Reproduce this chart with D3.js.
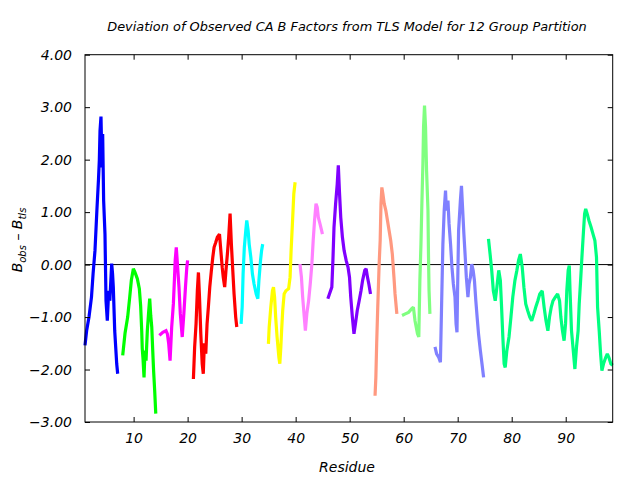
<!DOCTYPE html>
<html>
<head>
<meta charset="utf-8">
<script src="https://cdn.jsdelivr.net/npm/d3@7/dist/d3.min.js"></script>
<style>
  html, body { margin: 0; padding: 0; background: #fff; }
  text { font-family: "DejaVu Sans", sans-serif; font-style: italic; fill: #000; }
</style>
</head>
<body>
<svg id="chart" width="640" height="480"></svg>
<script>
// ---- data (residue, B_obs - B_tls) per TLS group ----
const groupColors = ["#0000ff","#00ff00","#ff00ff","#ff0000","#00ffff","#ffff00",
                     "#ff80ff","#8000ff","#ff9980","#80ff80","#8080ff","#00ff80"];

const group1 = [[1.0,-1.54],[1.3,-1.26],[1.74,-1.0],[2.2,-0.62],[2.5,-0.17],[2.85,0.27],[3.2,1.03],
  [3.5,1.63],[3.65,1.98],[3.78,2.55],[3.96,2.82],[4.15,1.85],[4.27,2.49],[4.45,1.22],[4.7,0.58],
  [4.89,-0.69],[5.13,-1.07],[5.38,-0.5],[5.6,-0.69],[5.94,0.02],[6.1,-0.17],[6.24,-0.43],
  [6.5,-1.26],[6.87,-1.89],[7.05,-2.08]];
const group2 = [[7.98,-1.73],[8.41,-1.31],[8.9,-1.0],[9.28,-0.62],[9.58,-0.30],[9.95,-0.08],
  [10.26,-0.15],[10.69,-0.27],[11.06,-0.46],[11.3,-0.78],[11.5,-1.26],[11.6,-1.6],[11.74,-1.79],
  [11.93,-2.15],[12.1,-1.64],[12.3,-1.83],[12.54,-1.26],[12.8,-0.88],[12.98,-0.65],[13.17,-0.97],
  [13.36,-1.19],[13.54,-1.64],[13.7,-2.02],[13.9,-2.4],[14.1,-2.84]];
const group3 = [[14.77,-1.35],[15.4,-1.29],[16.0,-1.26],[16.25,-1.32],[16.5,-1.51],[16.75,-1.83],
  [17.05,-1.19],[17.36,-0.75],[17.55,-0.30],[17.7,0.08],[17.9,0.33],[18.15,-0.05],[18.4,-0.43],
  [18.65,-0.94],[19.0,-1.38],[19.3,-0.94],[19.6,-0.43],[19.85,-0.05],[20.0,0.08]];
const group4 = [[21.07,-2.18],[21.3,-1.57],[21.56,-1.13],[21.8,-0.5],[22.0,-0.15],[22.2,-0.62],
  [22.44,-1.32],[22.7,-1.89],[22.9,-2.08],[23.1,-1.5],[23.36,-1.7],[23.6,-1.13],[23.84,-0.81],
  [24.1,-0.43],[24.4,-0.11],[24.66,0.14],[24.9,0.33],[25.2,0.42],[25.5,0.52],[25.9,0.58],
  [26.1,0.33],[26.4,-0.05],[26.6,-0.24],[26.86,-0.43],[27.1,-0.11],[27.36,0.20],[27.6,0.52],
  [27.86,0.97],[28.1,0.39],[28.36,-0.11],[28.6,-0.56],[28.9,-1.0],[29.1,-1.19]];
const group5 = [[29.9,-1.13],[30.1,-0.81],[30.27,-0.18],[30.5,0.33],[30.77,0.65],[30.95,0.84],
  [31.2,0.65],[31.4,0.39],[31.7,0.14],[32.0,-0.18],[32.3,-0.37],[32.7,-0.56],[33.0,-0.65],
  [33.2,-0.30],[33.5,0.08],[33.7,0.27],[33.9,0.39]];
const group6 = [[34.96,-1.51],[35.1,-1.19],[35.4,-0.81],[35.7,-0.5],[35.9,-0.43],[36.1,-0.62],
  [36.3,-1.0],[36.56,-1.38],[36.9,-1.77],[37.07,-1.89],[37.26,-1.57],[37.4,-1.26],[37.6,-0.88],
  [37.87,-0.56],[38.2,-0.5],[38.7,-0.46],[38.97,-0.24],[39.16,0.27],[39.4,0.78],[39.66,1.35],
  [39.9,1.57]];
const group7 = [[40.8,0.01],[41.07,-0.24],[41.3,-0.62],[41.6,-1.0],[41.8,-1.26],[42.07,-0.94],
  [42.4,-0.69],[42.7,-0.37],[43.0,0.01],[43.25,0.46],[43.5,0.84],[43.77,1.16],[44.0,1.09],
  [44.2,0.90],[44.5,0.78],[44.8,0.65],[44.96,0.58]];
const group8 = [[45.96,-0.65],[46.26,-0.56],[46.7,-0.43],[46.9,0.08],[47.1,0.71],[47.4,1.16],
  [47.7,1.54],[47.9,1.89],[48.1,1.41],[48.35,0.90],[48.66,0.52],[48.97,0.27],[49.35,0.08],
  [49.7,-0.05],[49.97,-0.24],[50.2,-0.62],[50.5,-1.0],[50.8,-1.32],[51.07,-1.13],[51.4,-0.88],
  [51.76,-0.69],[52.1,-0.5],[52.4,-0.30],[52.8,-0.11],[53.05,-0.08],[53.3,-0.24],[53.55,-0.37],
  [53.86,-0.56]];
const group9 = [[54.7,-2.50],[54.85,-2.15],[55.0,-1.51],[55.2,-0.81],[55.46,0.01],[55.65,0.46],
  [55.8,1.16],[55.96,1.47],[56.15,1.35],[56.4,1.16],[56.7,1.03],[57.0,0.84],[57.3,0.65],
  [57.6,0.46],[57.9,0.20],[58.2,-0.24],[58.4,-0.56],[58.74,-0.94]];
const group10 = [[59.7,-0.97],[60.3,-0.94],[60.9,-0.91],[61.5,-0.84],[61.8,-0.81],[62.1,-1.07],
  [62.56,-1.32],[62.8,-1.38],[63.0,-0.30],[63.2,0.39],[63.37,1.16],[63.56,1.92],[63.68,2.62],
  [63.86,3.03],[64.05,2.62],[64.24,1.79],[64.5,1.03],[64.6,0.14],[64.7,-0.5],[64.86,-0.94]];
const group11 = [[65.8,-1.57],[66.1,-1.70],[66.5,-1.77],[66.8,-1.86],[67.0,-0.88],[67.26,0.39],
  [67.5,1.03],[67.75,1.41],[67.9,1.03],[68.2,1.22],[68.4,0.78],[68.68,0.39],[68.94,-0.05],
  [69.2,-0.37],[69.5,-0.62],[69.7,-1.13],[69.87,-1.29],[69.98,-0.50],[70.17,0.65],[70.5,1.22],
  [70.7,1.50],[70.9,1.09],[71.15,0.58],[71.4,0.14],[71.6,-0.24],[71.9,-0.62],[72.1,-0.37],
  [72.36,-0.24],[72.6,0.01],[72.86,-0.11],[73.1,-0.30],[73.36,-0.69],[73.6,-1.0],[73.86,-1.32],
  [74.2,-1.64],[74.5,-1.89],[74.8,-2.15]];
const group12 = [[75.7,0.49],[76.0,0.20],[76.3,-0.11],[76.6,-0.5],[76.95,-0.69],[77.26,-0.43],
  [77.6,-0.11],[77.9,-0.30],[78.1,-0.75],[78.36,-1.38],[78.6,-1.89],[78.8,-1.96],[79.1,-1.64],
  [79.5,-1.38],[79.86,-1.0],[80.2,-0.62],[80.6,-0.30],[80.96,-0.11],[81.27,0.08],[81.6,0.20],
  [81.95,-0.05],[82.26,-0.43],[82.6,-0.75],[82.97,-0.88],[83.35,-1.0],[83.7,-1.07],[84.1,-0.94],
  [84.46,-0.81],[84.84,-0.69],[85.2,-0.56],[85.65,-0.50],[86.0,-0.81],[86.35,-1.07],[86.7,-1.26],
  [87.0,-1.0],[87.33,-0.81],[87.64,-0.69],[88.07,-0.62],[88.5,-0.56],[88.86,-0.69],[89.1,-1.0],
  [89.4,-1.26],[89.7,-1.45],[89.97,-1.13],[90.2,-0.5],[90.46,-0.11],[90.66,-0.02],[90.8,-0.5],
  [91.07,-1.26],[91.4,-1.64],[91.7,-1.99],[92.0,-1.57],[92.3,-1.26],[92.5,-0.75],[92.76,-0.30],
  [93.0,0.14],[93.3,0.65],[93.5,0.97],[93.7,1.06],[93.97,0.97],[94.3,0.84],[94.7,0.71],
  [95.06,0.58],[95.4,0.46],[95.7,0.14],[95.9,-0.81],[96.2,-1.26],[96.46,-1.70],[96.7,-2.02],
  [97.0,-1.89],[97.4,-1.77],[97.7,-1.70],[98.0,-1.77],[98.36,-1.89],[98.7,-1.92]];

const groups = [group1,group2,group3,group4,group5,group6,group7,group8,group9,group10,group11,group12];
const xTicks = [10,20,30,40,50,60,70,80,90];
const yTicks = [-3,-2,-1,0,1,2,3,4];
const titleText = "Deviation of Observed CA B Factors from TLS Model for 12 Group Partition";
const xLabel = "Residue";

// ---- layout ----
const L = 85, R = 612.7, T = 54.7, B = 422;
const svg = d3.select("#chart");
const x = d3.scaleLinear().domain([1, 98.7]).range([L, R]);
const y = d3.scaleLinear().domain([-3, 4]).range([B, T]);

// zero line
svg.append("line").attr("x1", L).attr("x2", R).attr("y1", y(0)).attr("y2", y(0))
  .attr("stroke", "#000").attr("stroke-width", 1);

// data lines
const line = d3.line().x(d => x(d[0])).y(d => y(d[1]));
groups.forEach((g, i) => {
  svg.append("path").datum(g).attr("d", line)
    .attr("fill", "none").attr("stroke", groupColors[i])
    .attr("stroke-width", 3.2).attr("stroke-linejoin", "miter").attr("stroke-miterlimit", 2);
});

// axes
const tk = 5;
const axB = svg.append("g").attr("transform", `translate(0,${B})`)
  .call(d3.axisBottom(x).tickValues(xTicks).tickSize(-tk).tickPadding(tk + 6).tickFormat(d3.format("d")));
const axT = svg.append("g").attr("transform", `translate(0,${T})`)
  .call(d3.axisTop(x).tickValues(xTicks).tickSize(-tk).tickFormat(""));
const axL = svg.append("g").attr("transform", `translate(${L},0)`)
  .call(d3.axisLeft(y).tickValues(yTicks).tickSize(-tk).tickPadding(tk + 8).tickFormat(d3.format(".2f")));
const axR = svg.append("g").attr("transform", `translate(${R},0)`)
  .call(d3.axisRight(y).tickValues(yTicks).tickSize(-tk).tickFormat(""));
[axB, axT, axL, axR].forEach(a => {
  a.select(".domain").remove();
  a.selectAll(".tick line").attr("stroke", "#000").attr("stroke-width", 1);
  a.selectAll("text").attr("font-size", 14).attr("font-family", "DejaVu Sans, sans-serif")
    .attr("font-style", "italic").attr("fill", "#000");
});

// border
svg.append("rect").attr("x", L).attr("y", T).attr("width", R - L).attr("height", B - T)
  .attr("fill", "none").attr("stroke", "#000").attr("stroke-width", 1);

// title
svg.append("text").attr("x", 347).attr("y", 31).attr("text-anchor", "middle")
  .attr("font-size", 12.9).text(titleText);
// x label
svg.append("text").attr("x", 347).attr("y", 472).attr("text-anchor", "middle")
  .attr("font-size", 14).text(xLabel);
// y label with subscripts
const yl = svg.append("text").attr("transform", "translate(22,240) rotate(-90)")
  .attr("text-anchor", "middle").attr("font-size", 14);
yl.append("tspan").text("B");
yl.append("tspan").attr("font-size", 10).attr("dy", 4).text("obs");
yl.append("tspan").attr("dy", -4).text(" \u2013 B");
yl.append("tspan").attr("font-size", 10).attr("dy", 4).text("tls");
</script>
</body>
</html>
